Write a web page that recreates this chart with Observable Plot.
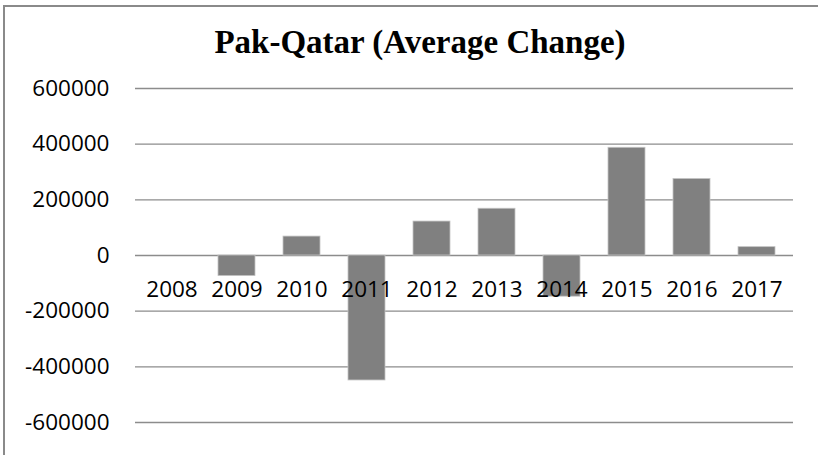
<!DOCTYPE html>
<html>
<head>
<meta charset="utf-8">
<script src="https://cdn.jsdelivr.net/npm/d3@7"></script>
<script src="https://cdn.jsdelivr.net/npm/@observablehq/plot@0.6"></script>
<style>
  html, body { margin: 0; padding: 0; background: #fff; overflow: hidden; }
  #wrap { position: relative; width: 818px; height: 455px; overflow: hidden; background: #fff; }
  #frame { position: absolute; left: 3px; top: 5px; width: 900px; height: 600px;
           border-left: 2px solid #8a8a8a; border-top: 2px solid #8a8a8a; box-sizing: border-box; }
  #title { position: absolute; left: 0; top: 26px; width: 818px; padding-left: 22px; box-sizing: border-box;
           text-align: center; font-family: "Liberation Serif", "Times New Roman", serif; font-weight: bold;
           font-size: 33px; line-height: 1; color: #000; }
  #chart { position: absolute; left: 0; top: 70px; }
</style>
</head>
<body>
<div id="wrap">
  <div id="frame"></div>
  <div id="title">Pak-Qatar (Average Change)</div>
  <div id="chart"></div>
</div>
<script>
const years = ["2008","2009","2010","2011","2012","2013","2014","2015","2016","2017"];
const changes = [0, -74000, 68000, -449000, 122000, 168000, -148000, 387000, 275000, 30000];
const yTicks = [-600000, -400000, -200000, 0, 200000, 400000, 600000];

const data = years.map((y, i) => ({year: y, value: changes[i]}));

const chart = Plot.plot({
  width: 818,
  height: 385,
  marginLeft: 135,
  marginRight: 25,
  marginTop: 18,
  marginBottom: 33,
  style: {fontFamily: "'Open Sans', sans-serif", background: "transparent", color: "#000"},
  x: {domain: years, paddingInner: 0.427, paddingOuter: 0.2135, axis: null},
  y: {domain: [-600000, 600000], label: null},
  marks: [
    Plot.ruleY(yTicks, {stroke: "#8c8c8c", strokeWidth: 1.4}),
    Plot.axisY(yTicks, {tickSize: 0, tickPadding: 26, fontSize: 22.5, tickFormat: d => String(d), fill: "#000", label: null}),
    Plot.barY(data, {x: "year", y: "value", fill: "#808080", stroke: "#c4c4c4", strokeWidth: 0.8}),
    Plot.text(data, {x: "year", y: () => 0, text: "year", lineAnchor: "bottom", dy: 41, fontSize: 22.5, fill: "#000"})
  ]
});
document.getElementById("chart").appendChild(chart);
</script>
</body>
</html>
